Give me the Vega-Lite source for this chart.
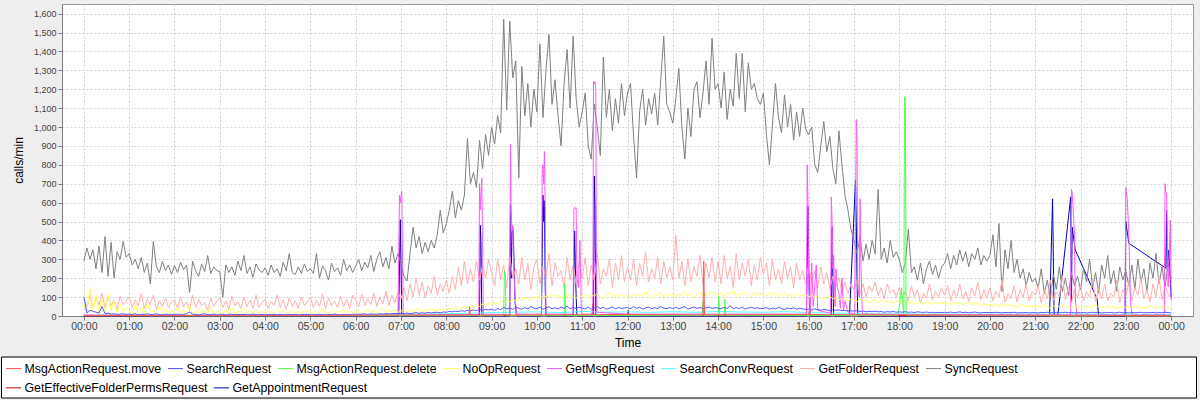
{
"$schema": "https://vega.github.io/schema/vega-lite/v6.json",
"width": 1131, "height": 312,
"autosize": {"type": "none"},
"padding": {"left": 62, "top": 4, "right": 7, "bottom": 84},
"background": "#EEEEEE",
"config": {
 "view": {"fill": "white", "stroke": "#999999", "strokeWidth": 1},
 "font": "Liberation Sans",
 "axis": {"grid": true, "gridColor": "#d2d2d2", "gridDash": [2,2], "gridWidth": 1, "tickColor": "#808080", "tickSize": 4, "domainColor": "#808080", "labelColor": "#444444", "titleColor": "#000000", "titleFontWeight": "normal", "titleFontSize": 12, "labelFont": "Liberation Sans", "titleFont": "Liberation Sans"},
 "legend": {"symbolType": "stroke", "symbolSize": 225, "symbolStrokeWidth": 1, "labelFont": "Liberation Sans", "labelFontSize": 12.3, "labelColor": "#000000", "labelOffset": 3, "columnPadding": 4, "labelLimit": 400, "direction": "horizontal", "orient": "none"},
 "line": {"strokeWidth": 1}
},
"encoding": {
 "x": {"field": "t", "type": "quantitative", "title": "Time",
   "scale": {"domain": [-29, 1469], "nice": false, "zero": false},
   "axis": {"values": [0,60,120,180,240,300,360,420,480,540,600,660,720,780,840,900,960,1020,1080,1140,1200,1260,1320,1380,1440],
     "labelExpr": "(floor(datum.value/60)%24 < 10 ? '0' : '') + (floor(datum.value/60)%24) + ':00'",
     "labelFontSize": 10.5, "labelPadding": 1, "labelFlush": false, "labelOverlap": false,
     "titleY": 26, "titleBaseline": "middle"}},
 "y": {"field": "v", "type": "quantitative", "title": "calls/min",
   "scale": {"domain": [0, 1651], "nice": false},
   "axis": {"values": [0,100,200,300,400,500,600,700,800,900,1000,1100,1200,1300,1400,1500,1600], "format": ",d",
     "labelFontSize": 9, "labelPadding": 2, "titleX": -44, "titleY": 156, "titleAngle": 270, "titleAlign": "center", "titleBaseline": "middle"}}
},
"datasets": {
"main": [
{"t":0,"s":290,"f":90,"n":60,"b":100},{"t":4,"s":360,"f":50,"n":20,"b":15},{"t":8,"s":300,"f":110,"n":150,"b":30},{"t":12,"s":350,"f":45,"n":30,"b":25},{"t":16,"s":250,"f":95,"n":110,"b":20},{"t":20,"s":370,"f":60,"n":25,"b":15},{"t":24,"s":230,"f":120,"n":90,"b":50},{"t":28,"s":420,"f":40,"n":20,"b":12},{"t":32,"s":210,"f":100,"n":120,"b":15},{"t":36,"s":390,"f":55,"n":30,"b":10},{"t":40,"s":200,"f":85,"n":80,"b":12},{"t":44,"s":340,"f":35,"n":15,"b":8},{"t":48,"s":300,"f":105,"n":60,"b":10},{"t":52,"s":395,"f":60,"n":25,"b":12},{"t":56,"s":310,"f":80,"n":40,"b":8},
{"t":60,"s":330,"f":100,"n":30,"b":10},{"t":64,"s":270,"f":45,"n":10,"b":8},{"t":68,"s":300,"f":85,"n":60,"b":12},{"t":72,"s":250,"f":55,"n":15,"b":6},{"t":76,"s":310,"f":120,"n":45,"b":10},{"t":80,"s":230,"f":40,"n":10,"b":8},{"t":84,"s":280,"f":90,"n":70,"b":12},{"t":88,"s":170,"f":60,"n":20,"b":7},{"t":92,"s":395,"f":110,"n":35,"b":9},{"t":96,"s":260,"f":35,"n":10,"b":11},{"t":100,"s":230,"f":80,"n":50,"b":8},{"t":104,"s":290,"f":50,"n":15,"b":6},{"t":108,"s":240,"f":95,"n":40,"b":10},{"t":112,"s":270,"f":45,"n":10,"b":8},{"t":116,"s":220,"f":75,"n":30,"b":9},
{"t":120,"s":265,"f":85,"n":15,"b":8},{"t":124,"s":230,"f":40,"n":45,"b":10},{"t":128,"s":285,"f":100,"n":10,"b":6},{"t":132,"s":245,"f":50,"n":30,"b":9},{"t":136,"s":270,"f":75,"n":20,"b":12},{"t":140,"s":125,"f":35,"n":55,"b":22},{"t":144,"s":290,"f":110,"n":10,"b":10},{"t":148,"s":240,"f":45,"n":25,"b":8},{"t":152,"s":210,"f":90,"n":40,"b":6},{"t":156,"s":275,"f":55,"n":12,"b":9},{"t":160,"s":235,"f":70,"n":30,"b":12},{"t":164,"s":320,"f":30,"n":15,"b":7},{"t":168,"s":225,"f":95,"n":50,"b":8},{"t":172,"s":260,"f":50,"n":10,"b":10},{"t":176,"s":240,"f":80,"n":25,"b":6},
{"t":180,"s":235,"f":95,"n":20,"b":7},{"t":184,"s":100,"f":45,"n":10,"b":9},{"t":188,"s":270,"f":80,"n":35,"b":6},{"t":192,"s":230,"f":35,"n":15,"b":8},{"t":196,"s":260,"f":105,"n":45,"b":10},{"t":200,"s":215,"f":55,"n":10,"b":6},{"t":204,"s":290,"f":75,"n":25,"b":8},{"t":208,"s":240,"f":40,"n":20,"b":7},{"t":212,"s":320,"f":100,"n":40,"b":9},{"t":216,"s":225,"f":50,"n":12,"b":6},{"t":220,"s":260,"f":85,"n":30,"b":8},{"t":224,"s":205,"f":40,"n":10,"b":10},{"t":228,"s":275,"f":110,"n":35,"b":7},{"t":232,"s":245,"f":45,"n":15,"b":6},{"t":236,"s":230,"f":70,"n":25,"b":8},
{"t":240,"s":255,"f":90,"n":15,"b":6},{"t":244,"s":215,"f":40,"n":30,"b":8},{"t":248,"s":270,"f":75,"n":10,"b":7},{"t":252,"s":230,"f":55,"n":25,"b":9},{"t":256,"s":250,"f":110,"n":40,"b":6},{"t":260,"s":210,"f":45,"n":12,"b":8},{"t":264,"s":285,"f":85,"n":30,"b":7},{"t":268,"s":240,"f":35,"n":15,"b":6},{"t":272,"s":330,"f":95,"n":20,"b":9},{"t":276,"s":230,"f":50,"n":35,"b":7},{"t":280,"s":220,"f":80,"n":10,"b":8},{"t":284,"s":260,"f":40,"n":25,"b":6},{"t":288,"s":225,"f":100,"n":15,"b":7},{"t":292,"s":275,"f":55,"n":30,"b":9},{"t":296,"s":235,"f":75,"n":20,"b":8},
{"t":300,"s":250,"f":100,"n":25,"b":7},{"t":304,"s":225,"f":45,"n":10,"b":6},{"t":308,"s":330,"f":85,"n":30,"b":8},{"t":312,"s":200,"f":50,"n":15,"b":9},{"t":316,"s":265,"f":115,"n":40,"b":7},{"t":320,"s":240,"f":40,"n":20,"b":6},{"t":324,"s":190,"f":95,"n":15,"b":8},{"t":328,"s":280,"f":55,"n":30,"b":7},{"t":332,"s":235,"f":80,"n":10,"b":10},{"t":336,"s":255,"f":45,"n":25,"b":8},{"t":340,"s":215,"f":105,"n":20,"b":6},{"t":344,"s":300,"f":50,"n":35,"b":9},{"t":348,"s":240,"f":90,"n":15,"b":7},{"t":352,"s":270,"f":40,"n":25,"b":8},{"t":356,"s":230,"f":110,"n":20,"b":10},
{"t":360,"s":265,"f":85,"n":20,"b":8},{"t":364,"s":300,"f":50,"n":30,"b":10},{"t":368,"s":240,"f":115,"n":15,"b":9},{"t":372,"s":285,"f":55,"n":25,"b":12},{"t":376,"s":255,"f":90,"n":35,"b":8},{"t":380,"s":320,"f":60,"n":20,"b":11},{"t":384,"s":235,"f":120,"n":30,"b":10},{"t":388,"s":300,"f":50,"n":15,"b":9},{"t":392,"s":340,"f":100,"n":25,"b":12},{"t":396,"s":260,"f":65,"n":40,"b":10},{"t":400,"s":310,"f":130,"n":20,"b":13},{"t":404,"s":250,"f":55,"n":30,"b":11},{"t":408,"s":370,"f":110,"n":25,"b":12},{"t":412,"s":280,"f":70,"n":35,"b":14},{"t":416,"s":330,"f":125,"n":20,"b":12},
{"t":420,"s":275,"f":90,"n":25,"b":14},{"t":424,"s":210,"f":150,"n":35,"b":12},{"t":428,"s":185,"f":80,"n":20,"b":16},{"t":432,"s":330,"f":170,"n":30,"b":13},{"t":436,"s":470,"f":100,"n":25,"b":15},{"t":440,"s":360,"f":200,"n":40,"b":18},{"t":444,"s":420,"f":110,"n":30,"b":14},{"t":448,"s":330,"f":180,"n":25,"b":17},{"t":452,"s":390,"f":95,"n":35,"b":15},{"t":456,"s":340,"f":160,"n":30,"b":19},{"t":460,"s":400,"f":120,"n":40,"b":16},{"t":464,"s":360,"f":210,"n":25,"b":18},{"t":468,"s":430,"f":110,"n":35,"b":20},{"t":472,"s":560,"f":170,"n":30,"b":17},{"t":476,"s":440,"f":130,"n":40,"b":21},
{"t":480,"s":490,"f":190,"n":30,"b":20},{"t":484,"s":560,"f":120,"n":40,"b":24},{"t":488,"s":660,"f":210,"n":35,"b":22},{"t":492,"s":520,"f":140,"n":45,"b":26},{"t":496,"s":610,"f":260,"n":30,"b":23},{"t":500,"s":560,"f":160,"n":40,"b":28},{"t":504,"s":640,"f":290,"n":50,"b":25},{"t":508,"s":940,"f":170,"n":40,"b":30},{"t":512,"s":700,"f":250,"n":55,"b":27},{"t":516,"s":760,"f":180,"n":45,"b":32},{"t":520,"s":680,"f":290,"n":60,"b":28},{"t":524,"s":930,"f":190,"n":50,"b":34},{"t":528,"s":780,"f":270,"n":65,"b":30},{"t":532,"s":960,"f":200,"n":55,"b":35},{"t":536,"s":850,"f":300,"n":70,"b":32},
{"t":540,"s":1000,"f":230,"n":60,"b":36},{"t":544,"s":910,"f":160,"n":70,"b":30},{"t":548,"s":1060,"f":300,"n":65,"b":40},{"t":552,"s":970,"f":190,"n":80,"b":34},{"t":556,"s":1570,"f":270,"n":70,"b":45},{"t":560,"s":1090,"f":150,"n":90,"b":38},{"t":564,"s":1560,"f":320,"n":75,"b":42},{"t":568,"s":1260,"f":200,"n":85,"b":35},{"t":572,"s":1350,"f":250,"n":80,"b":48},{"t":576,"s":730,"f":170,"n":95,"b":40},{"t":580,"s":1320,"f":310,"n":85,"b":36},{"t":584,"s":1060,"f":190,"n":100,"b":44},{"t":588,"s":1230,"f":280,"n":90,"b":38},{"t":592,"s":1000,"f":140,"n":85,"b":50},{"t":596,"s":1200,"f":260,"n":100,"b":42},
{"t":600,"s":1080,"f":300,"n":95,"b":40},{"t":604,"s":1440,"f":170,"n":110,"b":46},{"t":608,"s":1050,"f":260,"n":90,"b":35},{"t":612,"s":1300,"f":200,"n":105,"b":42},{"t":616,"s":1490,"f":330,"n":100,"b":50},{"t":620,"s":1120,"f":160,"n":115,"b":38},{"t":624,"s":1250,"f":280,"n":95,"b":44},{"t":628,"s":1060,"f":210,"n":110,"b":36},{"t":632,"s":900,"f":240,"n":100,"b":48},{"t":636,"s":1230,"f":150,"n":90,"b":40},{"t":640,"s":1410,"f":310,"n":105,"b":52},{"t":644,"s":1100,"f":190,"n":115,"b":38},{"t":648,"s":1480,"f":270,"n":100,"b":45},{"t":652,"s":1150,"f":170,"n":95,"b":40},{"t":656,"s":1000,"f":290,"n":110,"b":47},
{"t":660,"s":1080,"f":200,"n":100,"b":42},{"t":664,"s":1180,"f":310,"n":115,"b":38},{"t":668,"s":900,"f":160,"n":95,"b":48},{"t":672,"s":830,"f":270,"n":110,"b":35},{"t":676,"s":1120,"f":190,"n":105,"b":44},{"t":680,"s":1000,"f":330,"n":120,"b":50},{"t":684,"s":850,"f":170,"n":100,"b":40},{"t":688,"s":1370,"f":250,"n":90,"b":46},{"t":692,"s":1050,"f":210,"n":110,"b":36},{"t":696,"s":1200,"f":300,"n":125,"b":42},{"t":700,"s":980,"f":150,"n":100,"b":48},{"t":704,"s":1150,"f":280,"n":115,"b":38},{"t":708,"s":1020,"f":190,"n":95,"b":45},{"t":712,"s":1230,"f":320,"n":110,"b":40},{"t":716,"s":1060,"f":180,"n":105,"b":43},
{"t":720,"s":1180,"f":260,"n":110,"b":44},{"t":724,"s":1230,"f":190,"n":95,"b":38},{"t":728,"s":950,"f":300,"n":120,"b":50},{"t":732,"s":730,"f":160,"n":105,"b":40},{"t":736,"s":1080,"f":280,"n":115,"b":46},{"t":740,"s":1200,"f":210,"n":100,"b":36},{"t":744,"s":1010,"f":340,"n":130,"b":42},{"t":748,"s":1150,"f":180,"n":105,"b":48},{"t":752,"s":1070,"f":250,"n":95,"b":38},{"t":756,"s":1180,"f":200,"n":115,"b":44},{"t":760,"s":1010,"f":310,"n":110,"b":40},{"t":764,"s":1250,"f":170,"n":125,"b":50},{"t":768,"s":1480,"f":290,"n":100,"b":42},{"t":772,"s":1120,"f":200,"n":115,"b":38},{"t":776,"s":1080,"f":260,"n":105,"b":45},
{"t":780,"s":1020,"f":190,"n":120,"b":40},{"t":784,"s":1150,"f":430,"n":100,"b":46},{"t":788,"s":1310,"f":200,"n":115,"b":38},{"t":792,"s":1000,"f":290,"n":110,"b":44},{"t":796,"s":830,"f":160,"n":130,"b":50},{"t":800,"s":1100,"f":300,"n":105,"b":36},{"t":804,"s":950,"f":180,"n":120,"b":42},{"t":808,"s":1200,"f":260,"n":95,"b":48},{"t":812,"s":1240,"f":210,"n":115,"b":40},{"t":816,"s":1050,"f":320,"n":125,"b":45},{"t":820,"s":1180,"f":170,"n":105,"b":38},{"t":824,"s":1350,"f":280,"n":120,"b":43},{"t":828,"s":1120,"f":200,"n":110,"b":47},{"t":832,"s":1470,"f":310,"n":135,"b":40},{"t":836,"s":1200,"f":180,"n":115,"b":44},
{"t":840,"s":1230,"f":290,"n":110,"b":42},{"t":844,"s":1100,"f":170,"n":125,"b":38},{"t":848,"s":1290,"f":320,"n":100,"b":46},{"t":852,"s":1040,"f":200,"n":120,"b":40},{"t":856,"s":1200,"f":260,"n":115,"b":55},{"t":860,"s":1110,"f":150,"n":135,"b":38},{"t":864,"s":1390,"f":330,"n":105,"b":44},{"t":868,"s":1150,"f":190,"n":120,"b":40},{"t":872,"s":1390,"f":280,"n":110,"b":48},{"t":876,"s":1080,"f":210,"n":130,"b":36},{"t":880,"s":1340,"f":300,"n":115,"b":42},{"t":884,"s":1200,"f":160,"n":100,"b":46},{"t":888,"s":1230,"f":270,"n":125,"b":40},{"t":892,"s":1150,"f":190,"n":110,"b":44},{"t":896,"s":1120,"f":310,"n":120,"b":38},
{"t":900,"s":1180,"f":220,"n":115,"b":40},{"t":904,"s":960,"f":280,"n":105,"b":44},{"t":908,"s":800,"f":160,"n":125,"b":36},{"t":912,"s":1010,"f":300,"n":110,"b":42},{"t":916,"s":1230,"f":190,"n":120,"b":38},{"t":920,"s":1050,"f":250,"n":100,"b":46},{"t":924,"s":970,"f":170,"n":115,"b":40},{"t":928,"s":1170,"f":290,"n":125,"b":35},{"t":932,"s":1000,"f":200,"n":105,"b":42},{"t":936,"s":1120,"f":260,"n":115,"b":38},{"t":940,"s":930,"f":150,"n":100,"b":44},{"t":944,"s":1080,"f":280,"n":120,"b":36},{"t":948,"s":950,"f":190,"n":110,"b":40},{"t":952,"s":1100,"f":240,"n":105,"b":38},{"t":956,"s":990,"f":170,"n":115,"b":35},
{"t":960,"s":960,"f":270,"n":100,"b":36},{"t":964,"s":1000,"f":180,"n":110,"b":32},{"t":968,"s":800,"f":240,"n":95,"b":38},{"t":972,"s":760,"f":150,"n":105,"b":34},{"t":976,"s":900,"f":260,"n":90,"b":30},{"t":980,"s":1030,"f":170,"n":100,"b":36},{"t":984,"s":870,"f":230,"n":95,"b":32},{"t":988,"s":950,"f":140,"n":105,"b":28},{"t":992,"s":780,"f":210,"n":90,"b":34},{"t":996,"s":700,"f":160,"n":100,"b":30},{"t":1000,"s":980,"f":200,"n":85,"b":32},{"t":1004,"s":800,"f":130,"n":95,"b":28},{"t":1008,"s":640,"f":180,"n":90,"b":30},{"t":1012,"s":560,"f":120,"n":80,"b":26},{"t":1016,"s":460,"f":170,"n":90,"b":28},
{"t":1020,"s":400,"f":140,"n":85,"b":26},{"t":1024,"s":330,"f":190,"n":75,"b":28},{"t":1028,"s":420,"f":120,"n":90,"b":24},{"t":1032,"s":290,"f":170,"n":80,"b":26},{"t":1036,"s":380,"f":100,"n":85,"b":22},{"t":1040,"s":300,"f":160,"n":70,"b":25},{"t":1044,"s":400,"f":130,"n":80,"b":23},{"t":1048,"s":330,"f":180,"n":90,"b":26},{"t":1052,"s":670,"f":110,"n":75,"b":22},{"t":1056,"s":300,"f":150,"n":85,"b":24},{"t":1060,"s":360,"f":90,"n":70,"b":20},{"t":1064,"s":280,"f":170,"n":80,"b":23},{"t":1068,"s":400,"f":120,"n":75,"b":21},{"t":1072,"s":310,"f":140,"n":70,"b":24},{"t":1076,"s":340,"f":100,"n":80,"b":20},
{"t":1080,"s":300,"f":150,"n":75,"b":22},{"t":1084,"s":230,"f":90,"n":65,"b":20},{"t":1088,"s":280,"f":130,"n":80,"b":23},{"t":1092,"s":460,"f":80,"n":70,"b":19},{"t":1096,"s":230,"f":160,"n":75,"b":21},{"t":1100,"s":260,"f":100,"n":65,"b":18},{"t":1104,"s":190,"f":140,"n":70,"b":22},{"t":1108,"s":280,"f":70,"n":80,"b":20},{"t":1112,"s":170,"f":120,"n":65,"b":19},{"t":1116,"s":250,"f":95,"n":75,"b":21},{"t":1120,"s":290,"f":170,"n":70,"b":18},{"t":1124,"s":220,"f":85,"n":60,"b":20},{"t":1128,"s":270,"f":130,"n":75,"b":17},{"t":1132,"s":200,"f":100,"n":65,"b":19},{"t":1136,"s":260,"f":150,"n":70,"b":18},
{"t":1140,"s":280,"f":110,"n":65,"b":20},{"t":1144,"s":330,"f":160,"n":70,"b":18},{"t":1148,"s":250,"f":80,"n":60,"b":21},{"t":1152,"s":320,"f":140,"n":75,"b":17},{"t":1156,"s":270,"f":100,"n":65,"b":19},{"t":1160,"s":350,"f":170,"n":70,"b":22},{"t":1164,"s":290,"f":90,"n":60,"b":18},{"t":1168,"s":340,"f":130,"n":65,"b":20},{"t":1172,"s":260,"f":75,"n":75,"b":17},{"t":1176,"s":330,"f":150,"n":60,"b":19},{"t":1180,"s":300,"f":105,"n":70,"b":21},{"t":1184,"s":360,"f":180,"n":65,"b":18},{"t":1188,"s":270,"f":85,"n":55,"b":16},{"t":1192,"s":320,"f":140,"n":65,"b":19},{"t":1196,"s":290,"f":95,"n":60,"b":18},
{"t":1200,"s":320,"f":150,"n":60,"b":19},{"t":1204,"s":430,"f":80,"n":55,"b":17},{"t":1208,"s":260,"f":130,"n":65,"b":20},{"t":1212,"s":490,"f":100,"n":50,"b":18},{"t":1216,"s":130,"f":190,"n":60,"b":16},{"t":1220,"s":350,"f":70,"n":55,"b":19},{"t":1224,"s":250,"f":120,"n":65,"b":17},{"t":1228,"s":400,"f":90,"n":50,"b":18},{"t":1232,"s":230,"f":160,"n":60,"b":20},{"t":1236,"s":300,"f":75,"n":45,"b":16},{"t":1240,"s":200,"f":140,"n":55,"b":18},{"t":1244,"s":250,"f":100,"n":60,"b":17},{"t":1248,"s":160,"f":170,"n":50,"b":19},{"t":1252,"s":230,"f":80,"n":55,"b":16},{"t":1256,"s":180,"f":130,"n":45,"b":18},
{"t":1260,"s":200,"f":110,"n":50,"b":18},{"t":1264,"s":150,"f":160,"n":55,"b":16},{"t":1268,"s":250,"f":70,"n":45,"b":19},{"t":1272,"s":120,"f":140,"n":60,"b":17},{"t":1276,"s":190,"f":90,"n":50,"b":20},{"t":1280,"s":90,"f":190,"n":40,"b":18},{"t":1284,"s":220,"f":80,"n":55,"b":16},{"t":1288,"s":140,"f":130,"n":45,"b":19},{"t":1292,"s":260,"f":100,"n":50,"b":17},{"t":1296,"s":130,"f":210,"n":60,"b":18},{"t":1300,"s":200,"f":85,"n":45,"b":20},{"t":1304,"s":110,"f":150,"n":50,"b":17},{"t":1308,"s":230,"f":70,"n":40,"b":19},{"t":1312,"s":160,"f":140,"n":55,"b":16},{"t":1316,"s":210,"f":95,"n":45,"b":18},
{"t":1320,"s":140,"f":160,"n":50,"b":17},{"t":1324,"s":250,"f":80,"n":40,"b":19},{"t":1328,"s":180,"f":130,"n":55,"b":16},{"t":1332,"s":300,"f":100,"n":45,"b":18},{"t":1336,"s":150,"f":200,"n":50,"b":20},{"t":1340,"s":230,"f":75,"n":60,"b":17},{"t":1344,"s":120,"f":150,"n":45,"b":19},{"t":1348,"s":270,"f":90,"n":50,"b":16},{"t":1352,"s":200,"f":170,"n":40,"b":18},{"t":1356,"s":320,"f":80,"n":55,"b":17},{"t":1360,"s":170,"f":120,"n":45,"b":19},{"t":1364,"s":240,"f":100,"n":50,"b":16},{"t":1368,"s":130,"f":190,"n":40,"b":18},{"t":1372,"s":260,"f":70,"n":45,"b":20},{"t":1376,"s":190,"f":140,"n":50,"b":17},
{"t":1380,"s":240,"f":100,"n":45,"b":18},{"t":1384,"s":160,"f":180,"n":50,"b":16},{"t":1388,"s":270,"f":80,"n":40,"b":19},{"t":1392,"s":140,"f":150,"n":55,"b":17},{"t":1396,"s":300,"f":110,"n":45,"b":18},{"t":1400,"s":180,"f":200,"n":50,"b":20},{"t":1404,"s":250,"f":90,"n":40,"b":16},{"t":1408,"s":130,"f":140,"n":45,"b":18},{"t":1412,"s":280,"f":75,"n":55,"b":17},{"t":1416,"s":200,"f":170,"n":40,"b":19},{"t":1420,"s":330,"f":100,"n":50,"b":16},{"t":1424,"s":170,"f":210,"n":45,"b":18},{"t":1428,"s":260,"f":85,"n":40,"b":17},{"t":1432,"s":150,"f":160,"n":50,"b":20},{"t":1436,"s":280,"f":120,"n":45,"b":18},
{"t":1440,"s":200,"f":90,"n":40,"b":16}
],
"msg": [
{"t":0,"m":5},{"t":120,"m":3},{"t":240,"m":3},{"t":360,"m":4},{"t":416,"m":5},{"t":418,"m":640},{"t":419,"m":600},{"t":421,"m":660},{"t":423,"m":5},
{"t":480,"m":8},{"t":523,"m":8},{"t":524,"m":700},{"t":525,"m":560},{"t":527,"m":730},{"t":528,"m":400},{"t":529,"m":10},
{"t":564,"m":8},{"t":565,"m":910},{"t":566,"m":560},{"t":567,"m":450},{"t":568,"m":480},{"t":569,"m":300},{"t":571,"m":100},{"t":573,"m":10},
{"t":606,"m":10},{"t":607,"m":780},{"t":608,"m":800},{"t":609,"m":700},{"t":610,"m":870},{"t":611,"m":560},{"t":612,"m":10},
{"t":648,"m":10},{"t":649,"m":560},{"t":650,"m":575},{"t":651,"m":570},{"t":652,"m":570},{"t":653,"m":200},{"t":655,"m":150},{"t":657,"m":400},{"t":659,"m":10},
{"t":674,"m":10},{"t":675,"m":1240},{"t":676,"m":1230},{"t":677,"m":1240},{"t":678,"m":1200},{"t":679,"m":20},
{"t":720,"m":10},{"t":800,"m":10},{"t":900,"m":10},{"t":957,"m":10},{"t":958,"m":800},{"t":959,"m":600},{"t":960,"m":200},{"t":961,"m":100},{"t":962,"m":20},{"t":964,"m":280},{"t":966,"m":50},{"t":970,"m":270},{"t":972,"m":30},
{"t":989,"m":15},{"t":990,"m":630},{"t":991,"m":500},{"t":992,"m":250},{"t":993,"m":320},{"t":995,"m":50},{"t":996,"m":250},{"t":998,"m":150},{"t":1000,"m":120},{"t":1002,"m":40},{"t":1004,"m":200},{"t":1006,"m":30},{"t":1008,"m":80},{"t":1012,"m":20},
{"t":1021,"m":10},{"t":1023,"m":1040},{"t":1024,"m":900},{"t":1025,"m":150},{"t":1027,"m":100},{"t":1028,"m":620},{"t":1029,"m":300},{"t":1031,"m":10},
{"t":1100,"m":8},{"t":1200,"m":6},{"t":1307,"m":5},{"t":1308,"m":670},{"t":1309,"m":650},{"t":1311,"m":510},{"t":1312,"m":430},{"t":1313,"m":100},{"t":1315,"m":5},
{"t":1379,"m":5},{"t":1380,"m":680},{"t":1381,"m":640},{"t":1382,"m":613},{"t":1384,"m":437},{"t":1386,"m":84},{"t":1388,"m":5},
{"t":1431,"m":5},{"t":1432,"m":700},{"t":1433,"m":650},{"t":1434,"m":650},{"t":1436,"m":154},{"t":1439,"m":507},{"t":1440,"m":84}
],
"appt": [
{"t":0,"a":0},{"t":417,"a":0},{"t":419,"a":510},{"t":420,"a":280},{"t":421,"a":0},
{"t":524,"a":0},{"t":525,"a":480},{"t":526,"a":380},{"t":527,"a":10},{"t":528,"a":0},
{"t":564,"a":0},{"t":565,"a":590},{"t":566,"a":200},{"t":567,"a":440},{"t":568,"a":470},{"t":569,"a":400},{"t":571,"a":80},{"t":573,"a":0},
{"t":606,"a":0},{"t":607,"a":300},{"t":608,"a":640},{"t":609,"a":500},{"t":610,"a":610},{"t":611,"a":150},{"t":612,"a":0},
{"t":648,"a":0},{"t":650,"a":450},{"t":651,"a":250},{"t":652,"a":100},{"t":653,"a":0},
{"t":675,"a":0},{"t":676,"a":740},{"t":677,"a":570},{"t":678,"a":0},
{"t":957,"a":0},{"t":959,"a":580},{"t":960,"a":300},{"t":961,"a":50},{"t":962,"a":0},
{"t":990,"a":0},{"t":991,"a":470},{"t":992,"a":200},{"t":993,"a":0},
{"t":1014,"a":0},{"t":1022,"a":720},{"t":1023,"a":500},{"t":1024,"a":200},{"t":1025,"a":0},
{"t":1279,"a":0},{"t":1283,"a":620},{"t":1285,"a":10},{"t":1290,"a":5},{"t":1307,"a":630},{"t":1308,"a":80},{"t":1309,"a":470},{"t":1313,"a":350},{"t":1342,"a":90},{"t":1344,"a":0},
{"t":1379,"a":0},{"t":1380,"a":500},{"t":1384,"a":385},{"t":1433,"a":253},{"t":1434,"a":560},{"t":1435,"a":243},{"t":1437,"a":349},{"t":1440,"a":100}
],
"del": [
{"t":0,"dl":2},{"t":200,"dl":1},{"t":400,"dl":2},{"t":556,"dl":2},{"t":557,"dl":240},{"t":558,"dl":230},{"t":559,"dl":2},{"t":636,"dl":2},{"t":637,"dl":170},{"t":638,"dl":2},{"t":700,"dl":3},{"t":819,"dl":3},{"t":820,"dl":75},{"t":821,"dl":3},{"t":840,"dl":3},{"t":841,"dl":105},{"t":842,"dl":3},{"t":848,"dl":3},{"t":849,"dl":90},{"t":850,"dl":3},{"t":900,"dl":3},{"t":1078,"dl":3},{"t":1081,"dl":80},{"t":1083,"dl":150},{"t":1085,"dl":40},{"t":1086,"dl":5},{"t":1087,"dl":1160},{"t":1088,"dl":1150},{"t":1089,"dl":5},{"t":1200,"dl":2},{"t":1440,"dl":2}
],
"move": [
{"t":0,"mv":3},{"t":300,"mv":3},{"t":420,"mv":5},{"t":510,"mv":5},{"t":511,"mv":48},{"t":512,"mv":5},{"t":600,"mv":6},{"t":720,"mv":8},{"t":820,"mv":6},{"t":821,"mv":290},{"t":822,"mv":6},{"t":960,"mv":8},{"t":961,"mv":40},{"t":962,"mv":8},{"t":1100,"mv":5},{"t":1440,"mv":3}
],
"perm": [
{"t":0,"p":1},{"t":500,"p":2},{"t":673,"p":2},{"t":674,"p":64},{"t":675,"p":2},{"t":720,"p":3},{"t":721,"p":30},{"t":722,"p":3},{"t":1000,"p":2},{"t":1440,"p":1}
],
"conv": [
{"t":0,"c":3},{"t":30,"c":5},{"t":60,"c":3},{"t":90,"c":4},{"t":120,"c":3},{"t":150,"c":5},{"t":180,"c":3},{"t":210,"c":4},{"t":240,"c":3},{"t":270,"c":4},{"t":300,"c":3},{"t":330,"c":5},{"t":360,"c":4},{"t":390,"c":6},{"t":420,"c":8},{"t":450,"c":10},{"t":480,"c":12},{"t":510,"c":15},{"t":540,"c":18},{"t":570,"c":20},{"t":600,"c":22},{"t":630,"c":18},{"t":660,"c":24},{"t":690,"c":20},{"t":720,"c":22},{"t":750,"c":19},{"t":780,"c":23},{"t":810,"c":20},{"t":840,"c":24},{"t":870,"c":21},{"t":900,"c":20},{"t":930,"c":23},{"t":960,"c":18},{"t":990,"c":16},{"t":1020,"c":14},{"t":1050,"c":12},{"t":1080,"c":11},{"t":1110,"c":10},{"t":1140,"c":10},{"t":1170,"c":9},{"t":1200,"c":10},{"t":1230,"c":9},{"t":1260,"c":10},{"t":1290,"c":9},{"t":1320,"c":10},{"t":1350,"c":8},{"t":1380,"c":9},{"t":1410,"c":8},{"t":1440,"c":8}
]
},
"layer": [
 {"data": {"name": "conv"}, "transform": [{"fold": ["c"], "as": ["k", "v"]}], "mark": {"type": "point", "opacity": 0},
  "encoding": {"fill": {"field": "v", "type": "quantitative", "scale": {"range": ["#FFFFFF", "#FFFFFF"]},
    "legend": {"legendX": -60.5, "legendY": 353, "padding": 0, "title": null, "direction": "horizontal",
      "gradientLength": 1195, "gradientThickness": 41, "gradientStrokeColor": "#000000", "gradientStrokeWidth": 1,
      "labelExpr": "''", "labelOpacity": 0, "labelFontSize": 1}}}},
 {"encoding": {"stroke": {"field": "k", "type": "nominal",
    "scale": {"domain": ["p","a"], "range": ["#C00000","#0000C0"]},
    "legend": {"legendX": -56.5, "legendY": 375.5, "padding": 0, "title": null,
      "labelExpr": "datum.label == 'p' ? 'GetEffectiveFolderPermsRequest' : 'GetAppointmentRequest'"}}},
  "layer": [
   {"data": {"name": "appt"}, "transform": [{"fold": ["a"], "as": ["k", "v"]}], "mark": {"type": "line", "strokeWidth": 1}},
   {"data": {"name": "perm"}, "transform": [{"fold": ["p"], "as": ["k", "v"]}], "mark": {"type": "line", "strokeWidth": 1}}
  ]},
 {"encoding": {"color": {"field": "k", "type": "nominal",
    "scale": {"domain": ["mv","b","dl","n","m","c","f","s"], "range": ["#FF5555","#5555FF","#55FF55","#FFFF55","#FF55FF","#55FFFF","#FFAFAF","#808080"]},
    "legend": {"legendX": -56.5, "legendY": 356.2, "padding": 0, "title": null,
      "labelExpr": "datum.label == 'mv' ? 'MsgActionRequest.move' : datum.label == 'b' ? 'SearchRequest' : datum.label == 'dl' ? 'MsgActionRequest.delete' : datum.label == 'n' ? 'NoOpRequest' : datum.label == 'm' ? 'GetMsgRequest' : datum.label == 'c' ? 'SearchConvRequest' : datum.label == 'f' ? 'GetFolderRequest' : 'SyncRequest'"}}},
  "layer": [
   {"data": {"name": "main"}, "transform": [{"fold": ["s"], "as": ["k", "v"]}], "mark": {"type": "line", "strokeWidth": 1}},
   {"data": {"name": "main"}, "transform": [{"fold": ["f"], "as": ["k", "v"]}], "mark": {"type": "line", "strokeWidth": 1}},
   {"data": {"name": "conv"}, "transform": [{"fold": ["c"], "as": ["k", "v"]}], "mark": {"type": "line", "strokeWidth": 1}},
   {"data": {"name": "msg"}, "transform": [{"fold": ["m"], "as": ["k", "v"]}], "mark": {"type": "line", "strokeWidth": 1}},
   {"data": {"name": "main"}, "transform": [{"fold": ["n"], "as": ["k", "v"]}], "mark": {"type": "line", "strokeWidth": 1}},
   {"data": {"name": "del"}, "transform": [{"fold": ["dl"], "as": ["k", "v"]}], "mark": {"type": "line", "strokeWidth": 1}},
   {"data": {"name": "main"}, "transform": [{"fold": ["b"], "as": ["k", "v"]}], "mark": {"type": "line", "strokeWidth": 1}},
   {"data": {"name": "move"}, "transform": [{"fold": ["mv"], "as": ["k", "v"]}], "mark": {"type": "line", "strokeWidth": 1}}
  ]}
]
}
